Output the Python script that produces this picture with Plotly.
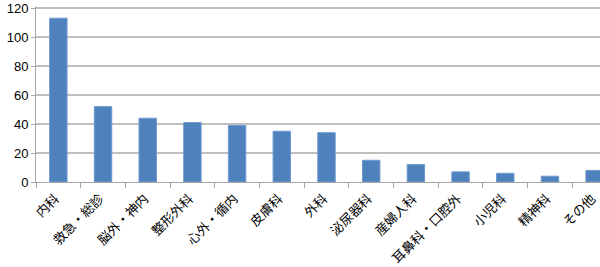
import plotly.graph_objects as go

categories = ["内科", "救急・総診", "脳外・神内", "整形外科", "心外・循内", "皮膚科", "外科",
              "泌尿器科", "産婦人科", "耳鼻科・口腔外", "小児科", "精神科", "その他"]
values = [113, 52, 44, 41, 39, 35, 34, 15, 12, 7, 6, 4, 8]
y_ticks = [0, 20, 40, 60, 80, 100, 120]

fig = go.Figure(go.Bar(
    x=categories, y=values,
    marker=dict(color="#4F81BD", line=dict(color="#6E9AD0", width=1)),
    width=0.39,
))

fig.update_layout(
    width=600, height=267,
    margin=dict(l=36, r=0, t=6, b=85, autoexpand=False),
    paper_bgcolor="white", plot_bgcolor="white",
    showlegend=False,
    font=dict(family="Liberation Sans, Arial, Noto Sans CJK JP", size=13, color="#000000"),
)
fig.update_xaxes(
    type="category",
    range=[-0.5, 12.12],
    tickangle=-45,
    tickfont=dict(family="Noto Sans CJK JP", size=13, color="#000000"),
    ticklabelstandoff=3,
    ticklabelshift=-3,
    showline=True, linecolor="#A6A6A6", linewidth=1,
    ticks="outside", ticklen=5, tickcolor="#A6A6A6", tickson="boundaries",
    showgrid=False, automargin=False,
)
fig.update_yaxes(
    range=[0, 121.4],
    tickmode="array",
    tickvals=y_ticks,
    ticktext=[str(v) for v in y_ticks],
    showgrid=True, gridcolor="#BFBFBF", gridwidth=1.5,
    showline=True, linecolor="#A6A6A6", linewidth=1,
    ticks="outside", ticklen=4, tickcolor="#A6A6A6",
    tickfont=dict(family="Liberation Sans, Arial", size=13, color="#000000"),
    zeroline=False, automargin=False,
)

fig.write_html("out.html")
